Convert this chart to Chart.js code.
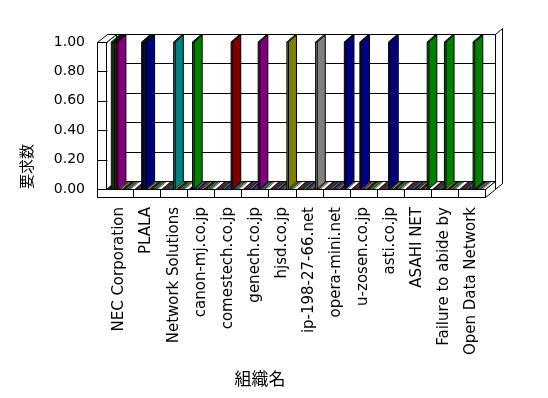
<!DOCTYPE html>
<html>
<head>
<meta charset="utf-8">
<script src="https://cdn.jsdelivr.net/npm/chart.js@4/dist/chart.umd.min.js"></script>
<style>
  html, body { margin: 0; background: #fff; }
</style>
</head>
<body>
<canvas id="grafico" width="548" height="398"></canvas>
<script>
// 組織名 (categories)
var orgNames = ['NEC Corporation', 'PLALA', 'Network Solutions', 'canon-mj.co.jp', 'comestech.co.jp',
  'genech.co.jp', 'hjsd.co.jp', 'ip-198-27-66.net', 'opera-mini.net', 'u-zosen.co.jp',
  'asti.co.jp', 'ASAHI NET', 'Failure to abide by', 'Open Data Network'];

// 要求数 per series (one array per series, one value per organisation)
var serie01 = [0, 0, 0, 0, 0, 0, 0, 0, 0, 0, 0, 0, 0, 0];
var serie02 = [0, 0, 0, 0, 0, 0, 0, 0, 0, 0, 0, 0, 0, 0];
var serie03 = [1, 0, 0, 1, 0, 0, 0, 0, 0, 0, 0, 0, 0, 0];
var serie04 = [1, 0, 0, 0, 0, 0, 0, 0, 0, 0, 0, 0, 0, 0];
var serie05 = [1, 1, 0, 0, 0, 0, 0, 0, 0, 0, 0, 0, 0, 0];
var serie06 = [1, 1, 0, 0, 0, 0, 0, 0, 0, 1, 0, 0, 0, 0];
var serie07 = [0, 1, 0, 0, 0, 0, 0, 0, 0, 0, 1, 0, 0, 0];
var serie08 = [0, 0, 1, 0, 0, 0, 0, 0, 0, 0, 0, 0, 1, 0];
var serie09 = [0, 0, 0, 0, 0, 0, 0, 0, 0, 0, 0, 0, 0, 1];
var serie10 = [0, 0, 0, 0, 1, 1, 0, 0, 0, 0, 0, 0, 0, 0];
var serie11 = [0, 0, 0, 0, 0, 0, 1, 0, 0, 0, 0, 0, 0, 0];
var serie12 = [0, 0, 0, 0, 0, 0, 0, 1, 0, 0, 0, 0, 0, 0];
var serie13 = [0, 0, 0, 0, 0, 0, 0, 0, 1, 0, 0, 0, 0, 0];
var serie14 = [0, 0, 0, 0, 0, 0, 0, 0, 0, 0, 0, 1, 0, 0];

var yMin = 0;
var yMax = 1;
var yStep = 0.2;

// colours
var barColors = ['#800080', '#000080', '#008080', '#008000', '#800000', '#800080', '#808000',
  '#808080', '#000080', '#000080', '#000080', '#008000', '#008000', '#008000'];
var leadColors = { 0: ['#00ff00', '#008000', '#ff0000'], 1: ['#000080', '#008080'] };
var stubColors = ['#000080', '#ff0000', '#008000', '#800080', '#00ffff', '#000000', '#ff00ff',
  '#008080', '#ffff00', '#800000', '#0000ff', '#00ff00', '#808000', '#c0c0c0'];

var DX = 10, DY = 8;    // wall depth
var BDX = 8, BDY = 7;   // bar depth

function poly(ctx, pts, fill, stroke) {
  ctx.beginPath();
  ctx.moveTo(pts[0][0], pts[0][1]);
  for (var k = 1; k < pts.length; k++) ctx.lineTo(pts[k][0], pts[k][1]);
  ctx.closePath();
  if (fill) { ctx.fillStyle = fill; ctx.fill(); }
  if (stroke) { ctx.strokeStyle = stroke; ctx.stroke(); }
}

function line(ctx, x1, y1, x2, y2) {
  ctx.beginPath();
  ctx.moveTo(x1, y1);
  ctx.lineTo(x2, y2);
  ctx.stroke();
}

var caixa3d = {
  id: 'caixa3d',
  beforeDatasetsDraw: function (chart) {
    var ctx = chart.ctx, a = chart.chartArea, y = chart.scales.y, x = chart.scales.x;
    var L = Math.round(a.left) + 0.5, R = Math.round(a.right) + 0.5;
    var T = Math.round(a.top) + 0.5, B = Math.round(a.bottom) + 0.5;
    ctx.save();
    ctx.lineWidth = 1;
    ctx.strokeStyle = '#000';

    // back wall + its right edge
    poly(ctx, [[R + DX, T - DY], [R + DX + 7, T - DY - 6], [R + DX + 7, B - DY + 2], [R + DX, B - DY + 8]], '#fff', '#000');
    poly(ctx, [[L + DX, T - DY], [R + DX, T - DY], [R + DX, B - DY], [L + DX, B - DY]], '#fff', '#000');
    y.ticks.forEach(function (t) {
      var py = Math.round(y.getPixelForValue(t.value)) + 0.5 - DY;
      line(ctx, L + DX, py, R + DX, py);
    });

    // left wall
    poly(ctx, [[L, T], [L + DX, T - DY], [L + DX, B - DY], [L, B]], '#fff', '#000');
    poly(ctx, [[L - 9, T], [L, T], [L + DX, T - DY], [L - 9 + DX, T - DY]], '#fff', '#000');
    poly(ctx, [[L - 9, T], [L, T], [L, B], [L - 9, B]], '#fff', '#000');
    y.ticks.forEach(function (t) {
      var py = Math.round(y.getPixelForValue(t.value)) + 0.5;
      line(ctx, L - 9, py, L + 1, py);
    });

    // floor
    poly(ctx, [[L, B], [R, B], [R + DX, B - DY], [L + DX, B - DY]], '#fff', '#000');
    poly(ctx, [[R, B], [R + DX, B - DY], [R + DX, B], [R, B + 8]], '#fff', '#000');
    poly(ctx, [[L - 9, B], [R, B], [R, B + 8], [L - 9, B + 8]], '#fff', '#000');
    var passo = x.getPixelForValue(1) - x.getPixelForValue(0);
    for (var i = 1; i < orgNames.length; i++) {
      var px = Math.round(x.getPixelForValue(i) - passo / 2) + 0.5;
      line(ctx, px, B, px, B + 8);
    }

    // bars: category by category, series from left to right
    var n = chart.data.datasets.length;
    for (var c = 0; c < orgNames.length; c++) {
      for (var s = 0; s < n; s++) {
        var el = chart.getDatasetMeta(s).data[c];
        var p = el.getProps(['x', 'y', 'base', 'width'], true);
        var cor = el.options.backgroundColor;
        var x0 = p.x - p.width / 2, x1 = p.x + p.width / 2;
        var top = p.y, base = p.base;
        if (chart.data.datasets[s].data[c] > 0) {
          ctx.fillStyle = cor;
          ctx.fillRect(x0, top, x1 - x0, base - top);
          line(ctx, x0, top, x0, base);
          poly(ctx, [[x1, base], [x1 + BDX, base - BDY], [x1 + BDX, top - BDY], [x1, top]], cor, '#000');
          poly(ctx, [[x0, top], [x1, top], [x1 + BDX, top - BDY], [x0 + BDX, top - BDY]], cor, '#000');
        } else {
          ctx.lineWidth = 0.5;
          poly(ctx, [[x0, base], [x1, base], [x1 + BDX, base - BDY], [x0 + BDX, base - BDY]], cor, '#000');
          ctx.lineWidth = 1;
        }
      }
    }
    ctx.restore();
    return false;
  },
  afterDraw: function (chart) {
    var ctx = chart.ctx;
    ctx.save();
    ctx.fillStyle = '#000';
    ctx.font = '17px "Noto Sans CJK JP"';
    ctx.textAlign = 'center';
    ctx.textBaseline = 'middle';
    ctx.fillText('組織名', 260, 379);
    ctx.restore();
  }
};

function montaGrafico() {
  var series = [serie01, serie02, serie03, serie04, serie05, serie06, serie07,
    serie08, serie09, serie10, serie11, serie12, serie13, serie14];
  var hitCount = orgNames.map(function () { return 0; });

  var datasets = series.map(function (vals, j) {
    return {
      label: '系列' + (j + 1),
      data: vals,
      backgroundColor: vals.map(function (v, i) {
        if (!v) return stubColors[j];
        var lead = leadColors[i];
        var k = hitCount[i]++;
        return (lead && k < lead.length) ? lead[k] : barColors[i];
      }),
      categoryPercentage: 0.85,
      barPercentage: 1
    };
  });

  var ctx = document.getElementById('grafico').getContext('2d');
  new Chart(ctx, {
    type: 'bar',
    data: { labels: orgNames, datasets: datasets },
    options: {
      responsive: false,
      animation: false,
      devicePixelRatio: 1,
      layout: { padding: { top: 42, right: 63, bottom: 0, left: 10 } },
      plugins: { legend: { display: false }, tooltip: { enabled: false } },
      scales: {
        x: {
          grid: { display: false, drawTicks: false },
          border: { display: false },
          ticks: {
            autoSkip: false, minRotation: 90, maxRotation: 90, padding: 18,
            color: '#000', font: { family: 'DejaVu Sans', size: 15 }
          },
          afterFit: function (scale) { scale.height = 209; }
        },
        y: {
          min: yMin, max: yMax,
          grid: { display: false, drawTicks: false },
          border: { display: false },
          ticks: {
            stepSize: yStep, padding: 21, color: '#000',
            font: { family: 'DejaVu Sans', size: 14 },
            callback: function (v) { return v.toFixed(2); }
          },
          title: {
            display: true, text: '要求数', align: 'start', color: '#000',
            padding: { top: 7, bottom: 0 },
            font: { family: 'Noto Sans CJK JP', size: 15 }
          },
          afterFit: function (scale) { scale.width = 96; }
        }
      }
    },
    plugins: [caixa3d]
  });
}

montaGrafico();
</script>
</body>
</html>
